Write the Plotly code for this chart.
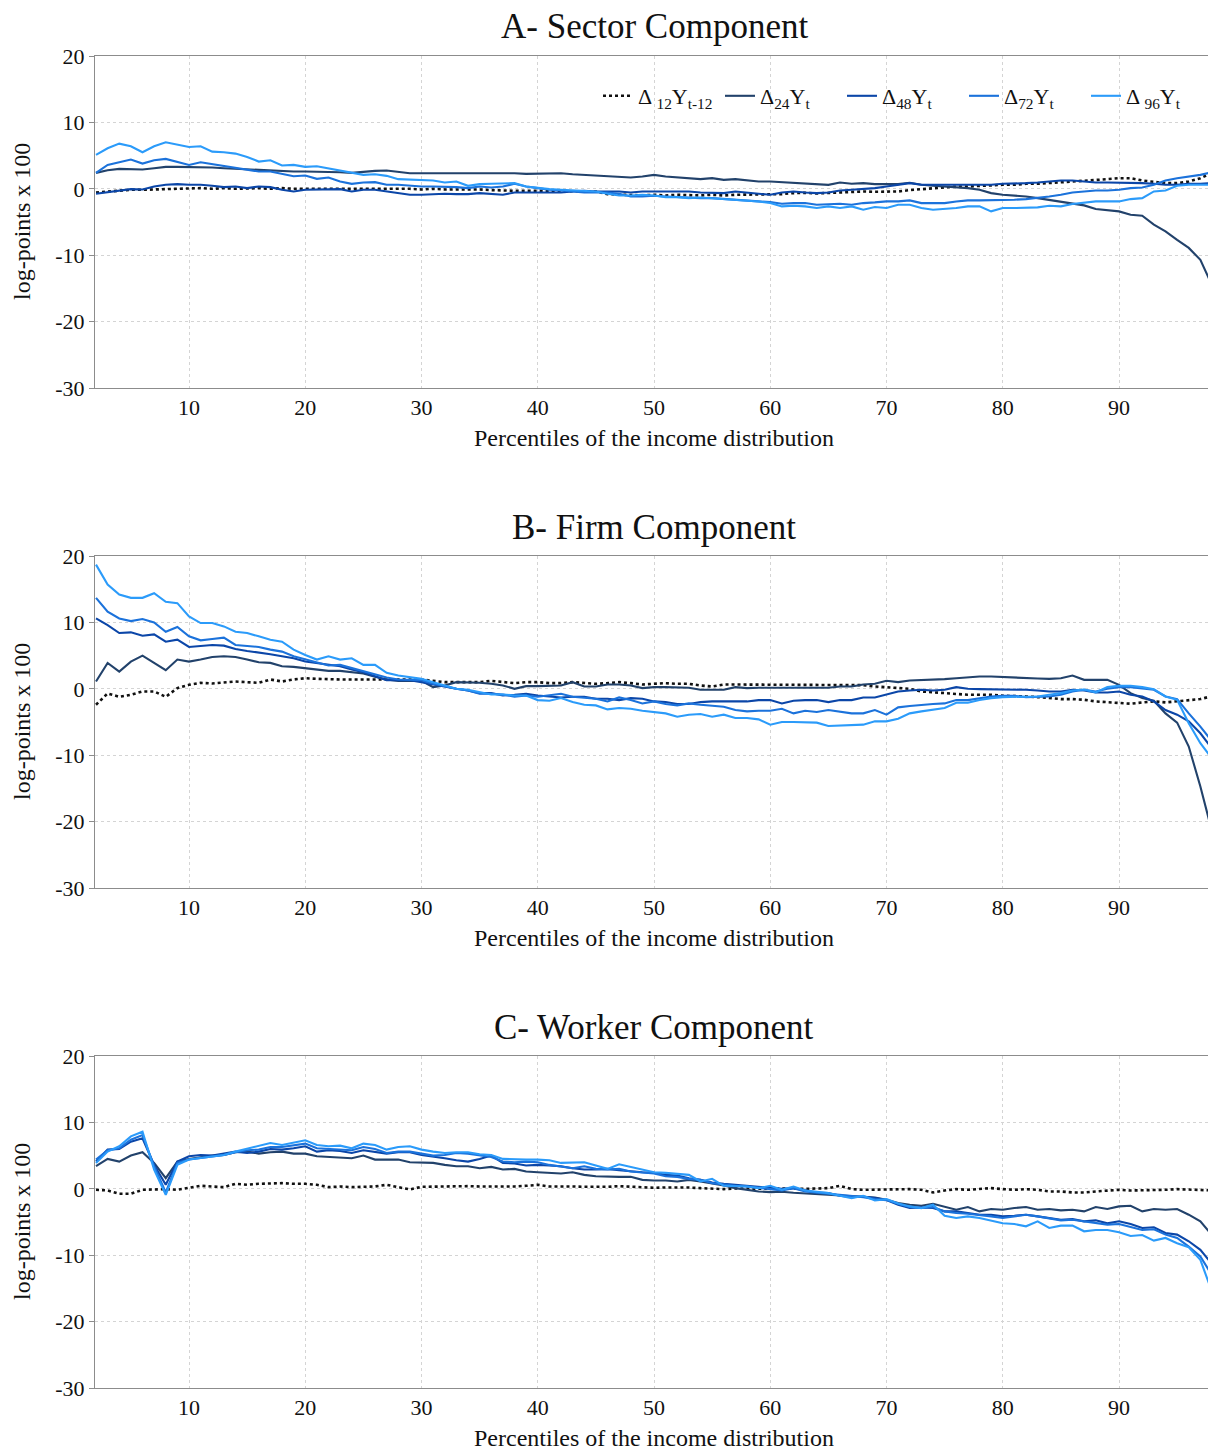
import plotly.graph_objects as go

percentiles = list(range(2, 99))

# ---------- Panel A: Sector component ----------
a_d12 = [-0.55,-0.4,-0.25,-0.15,-0.15,-0.1,0,0,0,0.1,0,0.1,0,0.1,0.1,0,0.1,0,0,0.1,0,0.1,0,0.1,0,0.1,0,0,-0.1,0,-0.1,-0.1,0,-0.1,-0.2,-0.3,-0.3,-0.3,-0.3,-0.4,-0.3,-0.4,-0.3,-0.4,-0.8,-0.9,-0.9,-1.0,-0.9,-1.0,-0.9,-1.0,-1.0,-0.9,-1.0,-0.9,-0.9,-0.9,-0.8,-0.8,-0.65,-0.6,-0.7,-0.6,-0.6,-0.4,-0.4,-0.45,-0.4,-0.4,-0.2,-0.05,0.1,0.25,0.35,0.35,0.45,0.6,0.6,0.6,0.75,0.75,0.85,0.95,1.1,1.25,1.35,1.45,1.6,1.6,1.25,1.1,0.85,0.85,1.1,1.6,2.4]
a_d24 = [2.4,2.8,3.0,3.0,2.9,3.1,3.3,3.3,3.3,3.3,3.2,3.1,3.0,2.9,2.8,2.8,2.6,2.6,2.6,2.6,2.5,2.5,2.4,2.6,2.7,2.75,2.5,2.35,2.35,2.35,2.45,2.35,2.35,2.4,2.4,2.4,2.35,2.25,2.25,2.35,2.35,2.2,2.1,1.95,1.85,1.7,1.7,1.85,2.1,1.85,1.75,1.6,1.45,1.6,1.35,1.45,1.25,1.1,1.1,1.0,0.95,0.85,0.75,0.6,0.95,0.75,0.85,0.7,0.7,0.7,0.9,0.6,0.45,0.35,0.25,0.1,-0.15,-0.65,-0.9,-1.0,-1.15,-1.4,-1.65,-1.9,-2.15,-2.5,-3.05,-3.25,-3.4,-3.9,-4.05,-5.4,-6.4,-7.7,-8.9,-10.7,-14.5]
a_d48 = [-0.75,-0.5,-0.25,-0.05,-0.1,0.35,0.6,0.7,0.6,0.6,0.45,0.25,0.35,0.1,0.35,0.25,-0.15,-0.4,-0.15,-0.15,-0.15,-0.05,-0.4,-0.15,-0.15,-0.4,-0.75,-0.9,-0.9,-0.8,-0.75,-0.8,-0.8,-0.65,-0.75,-0.9,-0.55,-0.55,-0.55,-0.55,-0.55,-0.4,-0.3,-0.4,-0.4,-0.4,-0.55,-0.4,-0.4,-0.4,-0.3,-0.4,-0.55,-0.55,-0.65,-0.4,-0.55,-0.65,-0.9,-0.55,-0.4,-0.55,-0.65,-0.55,-0.25,-0.15,-0.05,0.1,0.35,0.6,0.85,0.6,0.6,0.6,0.6,0.6,0.6,0.6,0.75,0.75,0.85,0.95,1.1,1.25,1.25,1.1,0.95,0.95,0.95,0.85,0.85,0.75,0.6,0.6,0.75,0.75,0.85]
a_d72 = [2.4,3.6,4.0,4.4,3.8,4.3,4.5,4.0,3.6,4.0,3.7,3.5,3.1,2.8,2.6,2.6,2.2,1.9,2.0,1.5,1.7,1.1,0.75,0.95,1.0,0.6,0.6,0.45,0.35,0.35,0.35,0.25,0.1,0.35,0.2,0.35,0.75,0.35,0.1,-0.15,-0.25,-0.4,-0.55,-0.55,-0.55,-0.75,-1.15,-1.15,-1.05,-1.15,-1.25,-1.25,-1.4,-1.4,-1.55,-1.65,-1.75,-1.9,-2.0,-2.25,-2.15,-2.15,-2.4,-2.3,-2.25,-2.4,-2.15,-2.05,-1.9,-1.9,-1.75,-2.15,-2.15,-2.15,-1.9,-1.75,-1.75,-1.75,-1.75,-1.65,-1.55,-1.4,-1.15,-0.9,-0.55,-0.4,-0.25,-0.25,-0.15,0.1,0.2,0.6,1.25,1.6,1.85,2.1,2.5]
a_d96 = [5.1,6.1,6.8,6.4,5.5,6.4,7.0,6.6,6.3,6.4,5.6,5.5,5.3,4.8,4.1,4.3,3.5,3.6,3.3,3.4,3.1,2.8,2.4,2.1,2.2,1.95,1.45,1.35,1.35,1.25,0.95,1.1,0.45,0.7,0.75,0.75,0.85,0.35,0.1,-0.05,-0.15,-0.25,-0.25,-0.4,-0.75,-1.0,-1.0,-0.9,-1.0,-1.25,-1.25,-1.4,-1.3,-1.4,-1.5,-1.65,-1.75,-1.9,-2.15,-2.65,-2.55,-2.65,-2.9,-2.65,-2.9,-2.65,-3.15,-2.75,-2.9,-2.4,-2.4,-2.9,-3.15,-3.05,-2.9,-2.65,-2.65,-3.4,-2.9,-2.9,-2.9,-2.8,-2.55,-2.65,-2.3,-2.15,-1.9,-1.9,-1.9,-1.55,-1.4,-0.4,-0.25,0.45,0.6,0.6,0.6]

# ---------- Panel B: Firm component ----------
b_d12 = [-2.4,-0.7,-1.2,-0.9,-0.4,-0.4,-1.2,0.1,0.6,0.9,0.8,0.9,1.1,1.0,0.9,1.4,1.1,1.4,1.6,1.5,1.4,1.4,1.4,1.4,1.4,1.4,1.4,1.4,1.4,1.2,1.0,1.0,1.0,1.0,1.2,1.0,0.85,1.0,1.0,0.85,0.85,1.0,0.85,0.75,0.85,1.0,0.85,0.65,0.75,0.85,0.75,0.75,0.5,0.35,0.65,0.65,0.65,0.65,0.65,0.65,0.65,0.65,0.65,0.65,0.6,0.6,0.55,0.35,0.25,0.1,0.0,-0.4,-0.55,-0.65,-0.75,-0.9,-0.9,-0.9,-1.05,-1.05,-1.15,-1.25,-1.4,-1.55,-1.55,-1.65,-1.9,-2.05,-2.15,-2.25,-2.05,-1.9,-2.05,-1.9,-1.65,-1.55,-1.1]
b_d24 = [1.1,3.9,2.6,4.1,5.0,3.9,2.8,4.4,4.1,4.4,4.8,4.9,4.8,4.4,4.0,3.9,3.4,3.3,3.1,3.0,2.7,2.7,2.5,2.3,1.8,1.4,1.2,1.2,1.2,0.25,0.5,1.0,1.0,0.9,0.75,0.5,0.0,0.4,0.4,0.5,0.5,1.0,0.35,0.35,0.65,0.65,0.5,0.1,0.25,0.25,0.25,0.15,-0.15,-0.15,-0.15,0.25,0.1,0.15,0.15,0.15,0.15,0.15,0.25,0.15,0.35,0.35,0.65,0.75,1.2,1.0,1.25,1.3,1.35,1.45,1.6,1.75,1.85,1.85,1.75,1.7,1.6,1.55,1.5,1.6,2.0,1.35,1.35,1.35,0.6,-0.65,-1.4,-1.8,-3.7,-5.1,-8.7,-14.7,-21.5]
b_d48 = [10.6,9.6,8.4,8.5,8.0,8.2,7.1,7.4,6.3,6.5,6.6,6.5,6.0,5.7,5.5,5.2,4.9,4.6,4.1,3.9,3.6,3.4,2.9,2.5,1.9,1.3,1.3,1.3,1.0,0.65,0.35,0.0,-0.25,-0.65,-0.65,-1.0,-0.9,-0.75,-1.0,-1.2,-1.3,-1.2,-1.2,-1.5,-1.5,-1.7,-1.4,-1.5,-1.9,-2.0,-2.3,-2.3,-2.0,-1.9,-1.9,-2.0,-1.9,-1.7,-1.7,-2.2,-1.8,-1.7,-1.7,-2.0,-1.7,-1.7,-1.3,-1.3,-0.85,-0.4,-0.25,-0.15,-0.25,-0.15,0.25,0.0,-0.05,-0.05,-0.05,-0.15,-0.15,-0.25,-0.4,-0.4,-0.15,-0.25,-0.55,-0.55,-0.4,-0.9,-1.15,-1.9,-3.2,-3.9,-4.9,-6.7,-9.0]
b_d72 = [13.7,11.6,10.6,10.2,10.5,10.0,8.6,9.3,7.9,7.3,7.5,7.7,6.6,6.5,6.3,5.9,5.6,4.9,4.4,3.9,3.5,3.6,3.1,2.6,2.1,1.7,1.4,1.4,1.3,0.75,0.35,0.0,-0.25,-0.75,-0.75,-0.85,-1.2,-1.0,-1.2,-1.0,-0.75,-1.2,-1.4,-1.5,-1.9,-1.3,-1.7,-2.2,-1.9,-2.3,-2.5,-2.2,-2.4,-2.5,-2.7,-3.2,-3.4,-3.3,-3.3,-3.0,-3.7,-3.3,-3.5,-3.2,-3.5,-3.7,-3.7,-3.2,-3.9,-2.8,-2.6,-2.4,-2.3,-2.2,-1.7,-1.7,-1.4,-1.15,-1.05,-1.05,-1.25,-1.25,-1.15,-0.9,-0.4,-0.15,-0.4,0.0,0.25,0.25,0.1,-0.15,-1.15,-1.55,-3.7,-5.7,-7.9]
b_d96 = [18.7,15.7,14.2,13.7,13.7,14.4,13.1,12.9,10.9,9.9,9.9,9.4,8.6,8.4,7.9,7.4,7.1,5.9,5.1,4.4,4.9,4.4,4.6,3.6,3.6,2.4,2.0,1.8,1.5,1.0,0.5,0.0,-0.15,-0.5,-0.85,-0.85,-1.0,-1.0,-1.7,-1.8,-1.4,-2.0,-2.4,-2.5,-3.1,-2.9,-3.0,-3.3,-3.5,-3.7,-4.2,-3.9,-3.8,-4.2,-3.9,-4.4,-4.4,-4.6,-5.4,-5.0,-5.0,-5.1,-5.1,-5.6,-5.5,-5.5,-5.4,-4.9,-4.9,-4.5,-3.7,-3.4,-3.2,-2.9,-2.1,-2.1,-1.7,-1.4,-1.25,-1.2,-1.2,-1.15,-0.9,-0.65,-0.25,-0.1,-0.55,0.25,0.45,0.45,0.25,-0.05,-1.15,-1.65,-5.2,-8.2,-10.5]

# ---------- Panel C: Worker component ----------
c_d12 = [-0.15,-0.25,-0.75,-0.75,-0.15,-0.05,-0.05,-0.15,0.1,0.45,0.35,0.25,0.75,0.6,0.75,0.85,0.85,0.75,0.75,0.6,0.25,0.35,0.25,0.3,0.35,0.6,0.3,-0.1,0.3,0.35,0.3,0.45,0.4,0.35,0.35,0.3,0.35,0.45,0.6,0.35,0.4,0.35,0.3,0.25,0.3,0.4,0.3,0.2,0.15,0.2,0.25,0.2,0.1,0.0,-0.05,0.05,0.0,-0.05,0.0,0.05,0.0,0.0,0.05,0.1,0.45,-0.05,-0.15,-0.1,-0.15,-0.1,-0.05,-0.15,-0.55,-0.25,-0.05,-0.15,-0.05,0.1,-0.05,-0.15,-0.05,-0.15,-0.4,-0.4,-0.55,-0.55,-0.4,-0.25,-0.15,-0.25,-0.25,-0.15,-0.15,-0.05,-0.15,-0.25,-0.25]
c_d24 = [3.4,4.5,4.1,5.0,5.5,3.9,1.6,4.1,4.5,4.8,5.0,5.1,5.5,5.6,5.3,5.5,5.6,5.3,5.3,4.9,4.8,4.8,4.6,5.0,4.4,4.4,4.4,4.0,3.9,3.9,3.6,3.4,3.4,3.1,3.3,2.9,3.0,2.6,2.5,2.4,2.3,2.5,2.1,1.9,1.8,1.8,1.8,1.35,1.25,1.25,1.1,1.35,1.1,0.85,0.5,0.1,-0.2,-0.4,-0.5,-0.45,-0.6,-0.7,-0.8,-0.85,-1.0,-1.15,-1.2,-1.3,-1.65,-2.15,-2.4,-2.55,-2.25,-2.75,-3.15,-2.75,-3.4,-3.05,-3.15,-2.9,-2.75,-3.15,-3.05,-3.25,-3.15,-3.4,-2.75,-3.05,-2.65,-2.55,-3.4,-3.05,-3.15,-3.05,-3.9,-4.9,-7.0]
c_d48 = [4.1,5.9,6.0,7.1,7.6,3.6,0.6,4.1,4.9,5.1,5.0,5.3,5.6,5.4,5.6,6.0,5.9,6.1,6.4,5.6,5.8,5.7,5.4,5.8,5.6,5.3,5.5,5.5,5.1,4.9,4.6,4.3,4.1,4.5,5.0,3.9,3.8,3.5,3.6,3.5,3.4,3.1,2.9,2.9,3.0,2.8,2.6,2.5,2.4,2.1,2.0,1.6,1.35,0.95,0.75,0.6,0.35,0.2,0.1,0.0,0.1,-0.25,-0.55,-0.65,-1.05,-1.25,-1.15,-1.4,-1.7,-2.4,-2.9,-2.8,-2.9,-3.4,-3.4,-3.65,-3.9,-3.9,-4.15,-4.05,-3.9,-4.15,-4.4,-4.65,-4.55,-4.9,-4.75,-5.2,-4.9,-5.3,-5.9,-5.8,-6.65,-6.9,-7.9,-9.2,-11.3]
c_d72 = [4.4,5.8,6.1,7.4,8.1,3.4,-0.55,3.9,4.4,4.6,4.9,5.1,5.5,5.8,5.9,6.3,6.3,6.6,6.8,6.1,6.0,6.0,5.8,6.3,6.0,5.4,5.6,5.6,5.3,5.0,5.1,5.4,5.3,5.0,4.8,4.1,4.0,4.1,4.0,3.6,3.3,3.1,3.4,3.0,2.9,3.0,2.6,2.4,2.3,1.9,1.8,1.5,1.35,0.85,0.6,0.45,0.35,0.2,-0.05,-0.25,0.1,-0.4,-0.55,-0.75,-0.9,-1.05,-1.25,-1.55,-1.7,-2.25,-2.75,-2.9,-2.75,-3.4,-3.65,-3.75,-3.9,-4.15,-4.4,-4.15,-3.9,-4.15,-4.4,-4.75,-4.65,-4.9,-5.2,-5.4,-5.3,-5.7,-6.2,-6.1,-6.9,-7.4,-8.7,-10.2,-13.0]
c_d96 = [3.9,5.6,6.4,7.9,8.6,2.9,-0.9,3.6,4.4,4.6,4.9,5.1,5.6,6.0,6.4,6.9,6.6,7.0,7.3,6.6,6.4,6.5,6.1,6.8,6.6,5.9,6.3,6.4,5.9,5.6,5.4,5.5,5.5,5.2,5.1,4.5,4.4,4.4,4.4,4.3,3.9,3.9,4.0,3.5,3.0,3.7,3.3,2.9,2.5,2.4,2.2,2.1,1.1,1.5,0.45,0.35,0.35,0.1,0.45,-0.15,0.35,-0.25,-0.4,-0.65,-1.05,-1.4,-1.05,-1.75,-1.55,-2.2,-2.65,-2.9,-2.4,-4.05,-4.4,-4.15,-4.4,-4.75,-5.2,-5.3,-5.65,-4.9,-5.9,-5.55,-5.55,-6.4,-6.2,-6.2,-6.55,-7.1,-6.95,-7.8,-7.4,-8.2,-8.8,-10.7,-15.5]

panel_titles = ["A- Sector Component", "B- Firm Component", "C- Worker Component"]
series_names = ["Δ <sub>12</sub>Y<sub>t-12</sub>", "Δ<sub>24</sub>Y<sub>t</sub>",
                "Δ<sub>48</sub>Y<sub>t</sub>", "Δ<sub>72</sub>Y<sub>t</sub>",
                "Δ <sub>96</sub>Y<sub>t</sub>"]
x_tick_vals = [10, 20, 30, 40, 50, 60, 70, 80, 90]
y_tick_vals = [-30, -20, -10, 0, 10, 20]
y_tick_text = ["-30", "-20", "-10", "0", "10", "20"]
x_title = "Percentiles of the income distribution"
y_title = "log-points x 100"

panels = [
    [a_d12, a_d24, a_d48, a_d72, a_d96],
    [b_d12, b_d24, b_d48, b_d72, b_d96],
    [c_d12, c_d24, c_d48, c_d72, c_d96],
]

colors = ["#111111", "#22426b", "#0b46a8", "#1b72db", "#2b9bfa"]
dashes = ["dot", "solid", "solid", "solid", "solid"]
widths = [2.6, 2.1, 2.1, 2.1, 2.1]

W, H = 1208, 1450
plot_left = 95
panel_px = [(56, 388), (556, 888), (1056, 1388)]
FONT = "Liberation Serif"


def fy(page_y):
    return 1 - page_y / H


def fx(page_x):
    return page_x / W


fig = go.Figure()
layout_axes = {}
annotations = []
for i, (series, (top, bot)) in enumerate(zip(panels, panel_px)):
    xa = "x" if i == 0 else f"x{i+1}"
    ya = "y" if i == 0 else f"y{i+1}"
    for j, vals in enumerate(series):
        fig.add_trace(go.Scatter(
            x=percentiles, y=vals, mode="lines", name=series_names[j],
            line=dict(color=colors[j], width=widths[j], dash=dashes[j]),
            xaxis=xa, yaxis=ya, showlegend=(i == 0), legendgroup=str(j)))
    xkey = "xaxis" if i == 0 else f"xaxis{i+1}"
    ykey = "yaxis" if i == 0 else f"yaxis{i+1}"
    layout_axes[xkey] = dict(
        domain=[plot_left / W, 1], anchor=ya, range=[1.914, 97.656],
        tickvals=x_tick_vals, ticks="", showline=True, mirror=True,
        linecolor="#8c8c8c", linewidth=1, showgrid=True, gridcolor="#d4d4d4",
        griddash="dot", gridwidth=1, zeroline=False, automargin=False,
        tickfont=dict(family=FONT, size=22, color="#111"))
    layout_axes[ykey] = dict(
        domain=[fy(bot), fy(top)], anchor=xa, range=[-30, 20],
        tickvals=y_tick_vals, ticktext=y_tick_text,
        ticks="outside", ticklen=5, tickcolor="#8c8c8c", showline=True,
        linecolor="#8c8c8c", linewidth=1, showgrid=True, gridcolor="#d4d4d4",
        griddash="dot", gridwidth=1, zeroline=False, automargin=False,
        tickfont=dict(family=FONT, size=22, color="#111"))
    annotations.append(dict(
        text=panel_titles[i], x=fx(654), y=fy(top - 29), xref="paper",
        yref="paper", xanchor="center", yanchor="middle", showarrow=False,
        font=dict(family=FONT, size=35, color="#111")))
    annotations.append(dict(
        text=x_title, x=fx(654), y=fy(bot + 50), xref="paper",
        yref="paper", xanchor="center", yanchor="middle", showarrow=False,
        font=dict(family=FONT, size=24, color="#111")))
    annotations.append(dict(
        text=y_title, x=fx(22), y=fy((top + bot) / 2), xref="paper",
        yref="paper", xanchor="center", yanchor="middle", showarrow=False,
        textangle=-90, font=dict(family=FONT, size=24, color="#111")))

fig.update_layout(
    width=W, height=H, autosize=False,
    margin=dict(l=0, r=0, t=0, b=0),
    paper_bgcolor="white", plot_bgcolor="white",
    annotations=annotations,
    legend=dict(orientation="h", x=fx(598), xanchor="left",
                y=fy(96), yanchor="middle", bgcolor="rgba(0,0,0,0)",
                font=dict(family=FONT, size=22, color="#111"),
                itemwidth=30, entrywidth=77, entrywidthmode="pixels",
                tracegroupgap=0),
    **layout_axes)

# remove the default 8px page margin so the figure fills the window exactly
fig.write_html("out.html", config={"displayModeBar": False},
               post_script="document.body.style.margin='0';")
